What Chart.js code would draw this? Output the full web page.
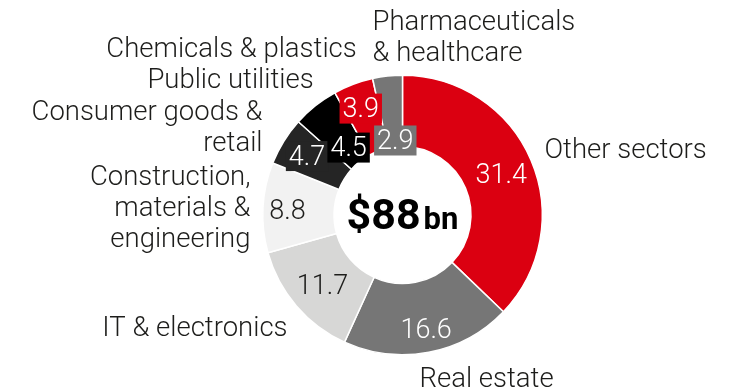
<!DOCTYPE html>
<html>
<head>
<meta charset="utf-8">
<script src="https://cdn.jsdelivr.net/npm/chart.js@4/dist/chart.umd.min.js"></script>
<style>
  html, body { margin: 0; padding: 0; background: #fff; }
  #wrap { width: 733px; height: 392px; }
</style>
</head>
<body>
<div id="wrap"><canvas id="sectorChart" width="733" height="392"></canvas></div>
<script>
// Loan book by sector, $bn
const sectors = [
    ['Other sectors'],
    ['Real estate'],
    ['IT & electronics'],
    ['Construction,', 'materials &', 'engineering'],
    ['Consumer goods &', 'retail'],
    ['Public utilities'],
    ['Chemicals & plastics'],
    ['Pharmaceuticals', '& healthcare']
];
const amounts = [31.4, 16.6, 11.7, 8.8, 4.7, 4.5, 3.9, 2.9];
const totalText = ['$88', 'bn'];

const sliceColors = ['#db0011', '#767676', '#d7d7d6', '#f2f2f2', '#252525', '#000000', '#db0011', '#767676'];
const valueColors = ['#fff', '#fff', '#1d1d1b', '#1d1d1b', '#fff', '#fff', '#fff', '#fff'];
// small slices get a filled tag behind the number
const valueBoxed = [false, false, false, false, true, true, true, true];
// nudges from the slice's own label point
const valueNudge = [[3, -1], [4, 11], [-1, 2], [-11, 0], [-7, -5], [11, 13], [-5, -10], [4, 28]];
// sector name placement around the ring: dx, dy of first baseline from centre, alignment
const nameSpots = [
    [142, -57, 'left'],
    [17, 172, 'left'],
    [-115, 121, 'right'],
    [-152, -30, 'right'],
    [-140, -95, 'right'],
    [-172, -127, 'center'],
    [-171, -158, 'center'],
    [-30, -185, 'left']
];

const FONT = 'Roboto, "Open Sans", sans-serif';
const LINE_H = 31;

const ringLabels = {
    id: 'ringLabels',
    afterDatasetsDraw(chart) {
        const ctx = chart.ctx;
        const arcs = chart.getDatasetMeta(0).data;
        const cx = arcs[0].x, cy = arcs[0].y;
        ctx.save();

        // sector names
        ctx.font = '300 27.5px ' + FONT;
        ctx.fillStyle = '#1d1d1b';
        ctx.textBaseline = 'alphabetic';
        sectors.forEach((lines, i) => {
            const [dx, dy, align] = nameSpots[i];
            ctx.textAlign = align;
            lines.forEach((ln, k) => ctx.fillText(ln, cx + dx, cy + dy + k * LINE_H));
        });

        // values on the slices
        ctx.font = '300 27px ' + FONT;
        ctx.textAlign = 'center';
        arcs.forEach((arc, i) => {
            const p = arc.tooltipPosition();
            const x = p.x + valueNudge[i][0];
            const y = p.y + valueNudge[i][1];
            const txt = amounts[i].toFixed(1);
            if (valueBoxed[i]) {
                const w = ctx.measureText(txt).width + 6;
                ctx.fillStyle = sliceColors[i];
                ctx.fillRect(x - w / 2, y - 14, w, 30);
            }
            ctx.fillStyle = valueColors[i];
            ctx.fillText(txt, x, y + 9.5);
        });

        // total in the hole
        ctx.fillStyle = '#000';
        ctx.font = 'bold 43px ' + FONT;
        const w1 = ctx.measureText(totalText[0]).width;
        ctx.font = 'bold 31px ' + FONT;
        const w2 = ctx.measureText(totalText[1]).width;
        const gap = 3;
        const left = cx - (w1 + gap + w2) / 2;
        ctx.textAlign = 'left';
        ctx.font = 'bold 43px ' + FONT;
        ctx.fillText(totalText[0], left, cy + 14);
        ctx.font = 'bold 31px ' + FONT;
        ctx.fillText(totalText[1], left + w1 + gap, cy + 14);

        ctx.restore();
    }
};

new Chart(document.getElementById('sectorChart'), {
    type: 'doughnut',
    data: {
        labels: sectors,
        datasets: [{
            data: amounts,
            backgroundColor: sliceColors,
            borderColor: '#ffffff',
            borderWidth: 1.5
        }]
    },
    options: {
        responsive: false,
        devicePixelRatio: 1,
        animation: false,
        cutout: '49%',
        rotation: 0,
        layout: { padding: { left: 262, right: 190, top: 74, bottom: 36 } },
        plugins: {
            legend: { display: false },
            tooltip: { enabled: false }
        }
    },
    plugins: [ringLabels]
});
</script>
</body>
</html>
